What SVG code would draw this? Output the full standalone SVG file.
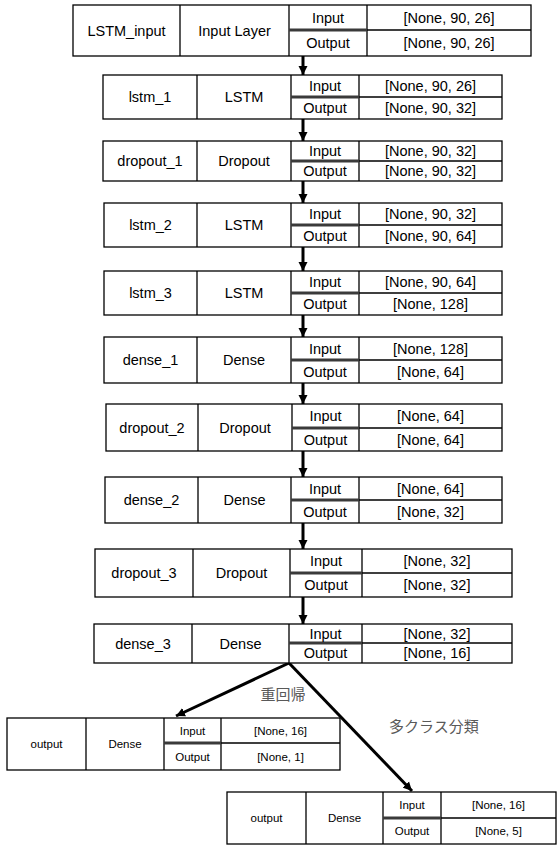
<svg xmlns="http://www.w3.org/2000/svg" width="558" height="845" viewBox="0 0 558 845">
<style>
.b{fill:#fff;stroke:#000;stroke-width:1.3}
.l{fill:none;stroke:#000;stroke-width:1.3}
.d{stroke:#3a3a3a;stroke-width:3}
text{font-family:"Liberation Sans",Arial,sans-serif;font-size:14.5px;text-anchor:middle;dominant-baseline:central;fill:#000}
.s{font-size:11.5px}
.j{font-family:"Noto Sans CJK JP",sans-serif;font-size:15px;fill:#595959}
.c{stroke:#000;stroke-width:3;fill:none}
</style>
<defs>
<marker id="ah" viewBox="0 0 10 10" refX="10" refY="5" markerWidth="9" markerHeight="10" markerUnits="userSpaceOnUse" orient="auto">
<path d="M0,0 L10,5 L0,10 z" fill="#000"/>
</marker>
</defs>
<g id="connectors">
<path class="c" marker-end="url(#ah)" d="M303 56 V75"/>
<path class="c" marker-end="url(#ah)" d="M303 119 V141"/>
<path class="c" marker-end="url(#ah)" d="M303 181 V203"/>
<path class="c" marker-end="url(#ah)" d="M303 247 V271"/>
<path class="c" marker-end="url(#ah)" d="M303 315 V337"/>
<path class="c" marker-end="url(#ah)" d="M303 383 V404"/>
<path class="c" marker-end="url(#ah)" d="M303 451 V477"/>
<path class="c" marker-end="url(#ah)" d="M303 523 V549"/>
<path class="c" marker-end="url(#ah)" d="M303 597 V624"/>
<path class="c" marker-end="url(#ah)" d="M289 663 L176 716"/>
<path class="c" marker-end="url(#ah)" d="M289 663 L412 791"/>
<text class="j" x="283" y="693">重回帰</text>
<text class="j" x="389" y="725" style="text-anchor:start">多クラス分類</text>
</g>
<g id="n_lstm_input">
<rect class="b" x="73" y="5" width="458" height="51"/>
<path class="l" d="M180 5V56M289 5V56M367 5V56M367 30H531"/>
<line class="d" x1="289" y1="30" x2="367" y2="30"/>
<text x="126.5" y="30.5">LSTM_input</text><text x="234.5" y="30.5">Input Layer</text>
<text x="328" y="17.5">Input</text><text x="328" y="43">Output</text>
<text x="449" y="17.5">[None, 90, 26]</text><text x="449" y="43">[None, 90, 26]</text>
</g>
<g id="n_lstm_1">
<rect class="b" x="103" y="75" width="399" height="44"/>
<path class="l" d="M197 75V119M291 75V119M359 75V119M359 97H502"/>
<line class="d" x1="291" y1="97" x2="359" y2="97"/>
<text x="150" y="97">lstm_1</text><text x="244" y="97">LSTM</text>
<text x="325" y="86">Input</text><text x="325" y="108">Output</text>
<text x="430.5" y="86">[None, 90, 26]</text><text x="430.5" y="108">[None, 90, 32]</text>
</g>
<g id="n_dropout_1">
<rect class="b" x="103" y="141" width="399" height="40"/>
<path class="l" d="M197 141V181M291 141V181M359 141V181M359 161H502"/>
<line class="d" x1="291" y1="161" x2="359" y2="161"/>
<text x="150" y="161">dropout_1</text><text x="244" y="161">Dropout</text>
<text x="325" y="151">Input</text><text x="325" y="171">Output</text>
<text x="430.5" y="151">[None, 90, 32]</text><text x="430.5" y="171">[None, 90, 32]</text>
</g>
<g id="n_lstm_2">
<rect class="b" x="104" y="203" width="398" height="44"/>
<path class="l" d="M197 203V247M291 203V247M359 203V247M359 225H502"/>
<line class="d" x1="291" y1="225" x2="359" y2="225"/>
<text x="150.5" y="225">lstm_2</text><text x="244" y="225">LSTM</text>
<text x="325" y="214">Input</text><text x="325" y="236">Output</text>
<text x="430.5" y="214">[None, 90, 32]</text><text x="430.5" y="236">[None, 90, 64]</text>
</g>
<g id="n_lstm_3">
<rect class="b" x="104" y="271" width="398" height="44"/>
<path class="l" d="M197 271V315M291 271V315M359 271V315M359 293H502"/>
<line class="d" x1="291" y1="293" x2="359" y2="293"/>
<text x="150.5" y="293">lstm_3</text><text x="244" y="293">LSTM</text>
<text x="325" y="282">Input</text><text x="325" y="304">Output</text>
<text x="430.5" y="282">[None, 90, 64]</text><text x="430.5" y="304">[None, 128]</text>
</g>
<g id="n_dense_1">
<rect class="b" x="104" y="337" width="398" height="46"/>
<path class="l" d="M197 337V383M291 337V383M359 337V383M359 360H502"/>
<line class="d" x1="291" y1="360" x2="359" y2="360"/>
<text x="150.5" y="360">dense_1</text><text x="244" y="360">Dense</text>
<text x="325" y="348.5">Input</text><text x="325" y="371.5">Output</text>
<text x="430.5" y="348.5">[None, 128]</text><text x="430.5" y="371.5">[None, 64]</text>
</g>
<g id="n_dropout_2">
<rect class="b" x="106" y="404" width="396" height="47"/>
<path class="l" d="M198 404V451M292 404V451M359 404V451M359 428H502"/>
<line class="d" x1="292" y1="428" x2="359" y2="428"/>
<text x="152" y="427.5">dropout_2</text><text x="245" y="427.5">Dropout</text>
<text x="325.5" y="416">Input</text><text x="325.5" y="439.5">Output</text>
<text x="430.5" y="416">[None, 64]</text><text x="430.5" y="439.5">[None, 64]</text>
</g>
<g id="n_dense_2">
<rect class="b" x="105" y="477" width="397" height="46"/>
<path class="l" d="M198 477V523M291 477V523M359 477V523M359 500H502"/>
<line class="d" x1="291" y1="500" x2="359" y2="500"/>
<text x="151.5" y="500">dense_2</text><text x="244.5" y="500">Dense</text>
<text x="325" y="488.5">Input</text><text x="325" y="511.5">Output</text>
<text x="430.5" y="488.5">[None, 64]</text><text x="430.5" y="511.5">[None, 32]</text>
</g>
<g id="n_dropout_3">
<rect class="b" x="95" y="549" width="417" height="48"/>
<path class="l" d="M193 549V597M290 549V597M362 549V597M362 573H512"/>
<line class="d" x1="290" y1="573" x2="362" y2="573"/>
<text x="144" y="573">dropout_3</text><text x="241.5" y="573">Dropout</text>
<text x="326" y="561">Input</text><text x="326" y="585">Output</text>
<text x="437" y="561">[None, 32]</text><text x="437" y="585">[None, 32]</text>
</g>
<g id="n_dense_3">
<rect class="b" x="94" y="624" width="418" height="39"/>
<path class="l" d="M192 624V663M289 624V663M362 624V663M362 643H512"/>
<line class="d" x1="289" y1="643" x2="362" y2="643"/>
<text x="143" y="643.5">dense_3</text><text x="240.5" y="643.5">Dense</text>
<text x="325.5" y="633.5">Input</text><text x="325.5" y="653">Output</text>
<text x="437" y="633.5">[None, 32]</text><text x="437" y="653">[None, 16]</text>
</g>
<g id="n_output_reg">
<rect class="b" x="7" y="718" width="333" height="52"/>
<path class="l" d="M86 718V770M164 718V770M221 718V770M221 743H340"/>
<line class="d" x1="164" y1="743" x2="221" y2="743"/>
<text class="s" x="46.5" y="744">output</text><text class="s" x="125" y="744">Dense</text>
<text class="s" x="192.5" y="730.5">Input</text><text class="s" x="192.5" y="756.5">Output</text>
<text class="s" x="280.5" y="730.5">[None, 16]</text><text class="s" x="280.5" y="756.5">[None, 1]</text>
</g>
<g id="n_output_cls">
<rect class="b" x="227" y="792" width="329" height="52"/>
<path class="l" d="M306 792V844M383 792V844M441 792V844M441 818H556"/>
<line class="d" x1="383" y1="818" x2="441" y2="818"/>
<text class="s" x="266.5" y="818">output</text><text class="s" x="344.5" y="818">Dense</text>
<text class="s" x="412" y="805">Input</text><text class="s" x="412" y="831">Output</text>
<text class="s" x="498.5" y="805">[None, 16]</text><text class="s" x="498.5" y="831">[None, 5]</text>
</g>
</svg>
